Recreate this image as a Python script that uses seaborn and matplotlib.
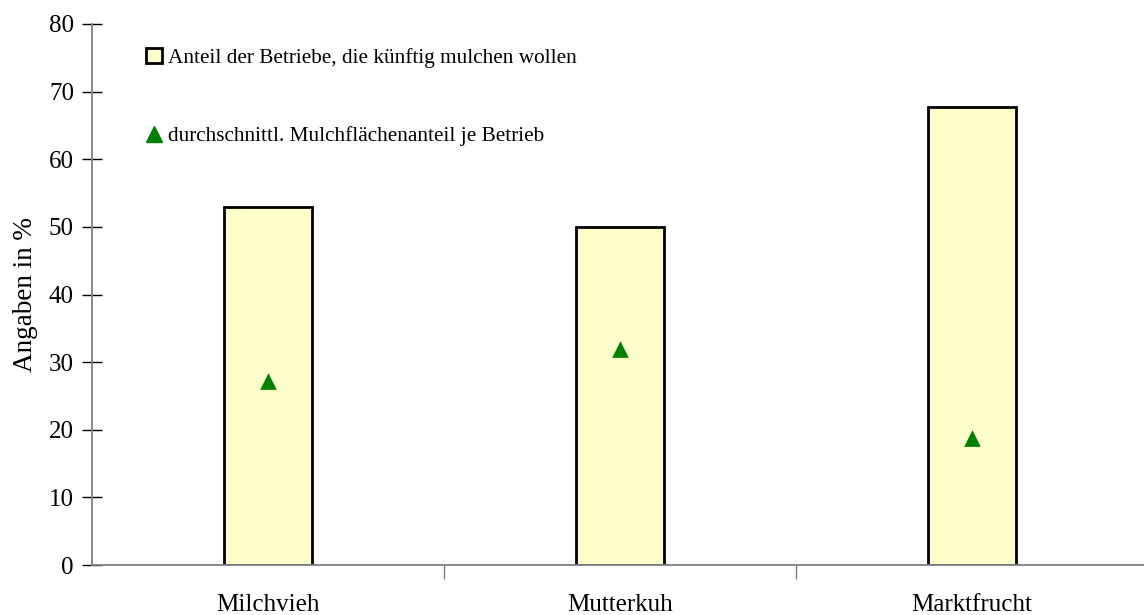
import matplotlib
matplotlib.use("Agg")
import matplotlib.pyplot as plt
import pandas as pd
import seaborn as sns
from matplotlib.lines import Line2D
from matplotlib.patches import Patch

# Daten
KATEGORIEN = ["Milchvieh", "Mutterkuh", "Marktfrucht"]
ANTEIL_MULCHEN = [52.9, 50.0, 67.7]
MULCHFLAECHE = [27.2, 31.9, 18.8]
Y_TICKS = [0, 10, 20, 30, 40, 50, 60, 70, 80]

LABEL_BALKEN = "Anteil der Betriebe, die künftig mulchen wollen"
LABEL_PUNKTE = "durchschnittl. Mulchflächenanteil je Betrieb"

BAR_COLOR = "#FFFFCC"
TRI_COLOR = "#008000"
AXIS_COLOR = "#808080"

sns.set_style("white")
plt.rcParams["font.family"] = ["Liberation Serif", "DejaVu Serif"]
plt.rcParams["text.color"] = "black"
plt.rcParams["axes.labelcolor"] = "black"
plt.rcParams["xtick.color"] = "black"
plt.rcParams["ytick.color"] = "black"

df = pd.DataFrame(
    {
        "Kategorie": KATEGORIEN,
        "Anteil": ANTEIL_MULCHEN,
        "Mulch": MULCHFLAECHE,
    }
)

fig = plt.figure(figsize=(11.44, 6.15), dpi=100)
ax = fig.add_axes([92 / 1144, 50 / 615, 1056 / 1144, 541 / 615])

sns.barplot(
    data=df,
    x="Kategorie",
    y="Anteil",
    order=KATEGORIEN,
    width=0.25,
    color=BAR_COLOR,
    edgecolor="black",
    linewidth=2,
    saturation=1,
    ax=ax,
)
sns.stripplot(
    data=df,
    x="Kategorie",
    y="Mulch",
    order=KATEGORIEN,
    jitter=False,
    marker="^",
    size=12,
    color=TRI_COLOR,
    linewidth=0,
    ax=ax,
    zorder=5,
)

ax.set_xlim(-0.5, 2.5)
ax.set_ylim(0, 80)
ax.set_yticks(Y_TICKS)
ax.set_yticklabels([str(t) for t in Y_TICKS], fontsize=18)
ax.set_xticks(range(len(KATEGORIEN)))
ax.set_xticklabels(KATEGORIEN, fontsize=18)
ax.set_xticks([0.5, 1.5, 2.5], minor=True)

ax.tick_params(axis="x", which="major", bottom=True, length=0, pad=21)
ax.tick_params(axis="x", which="minor", bottom=True, length=10, width=1,
               color=AXIS_COLOR, direction="out")
ax.tick_params(axis="y", which="major", left=True, length=14, width=1,
               color="black", direction="inout", pad=6)

ax.set_xlabel("")
ax.set_ylabel("Angaben in %", fontsize=19.5, labelpad=8)

for side in ["top", "right"]:
    ax.spines[side].set_visible(False)
for side in ["left", "bottom"]:
    ax.spines[side].set_color(AXIS_COLOR)
    ax.spines[side].set_linewidth(1.3)

handles = [
    Patch(facecolor=BAR_COLOR, edgecolor="black", linewidth=2, label=LABEL_BALKEN),
    Line2D([], [], marker="^", color=TRI_COLOR, linestyle="none", markersize=12,
           label=LABEL_PUNKTE),
]
fig.legend(
    handles=handles,
    loc="upper left",
    bbox_to_anchor=(146 / 1144, 1 - 48 / 615),
    frameon=False,
    fontsize=15.3,
    handlelength=0.75,
    handleheight=0.65,
    handletextpad=0.3,
    labelspacing=2.75,
    borderpad=0,
    borderaxespad=0,
)

fig.savefig("out.png", dpi=100)
